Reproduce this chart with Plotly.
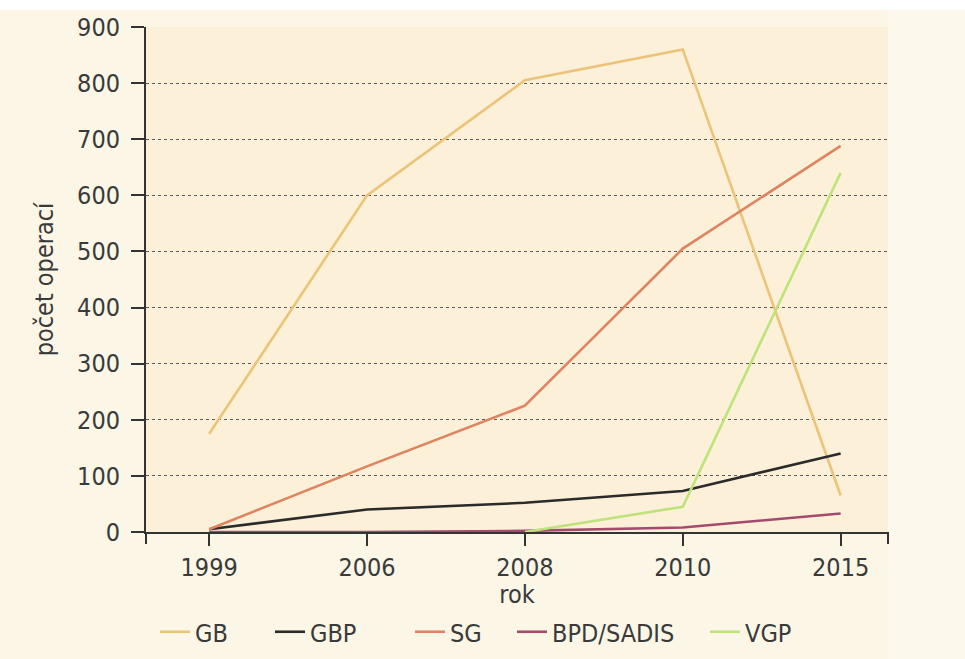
import plotly.graph_objects as go

years = ["1999", "2006", "2008", "2010", "2015"]
gb = [175, 600, 805, 860, 65]
gbp = [5, 40, 52, 73, 140]
sg = [5, 117, 225, 505, 688]
bpd = [0, 0, 2, 8, 33]
vgp = [None, None, 0, 45, 640]

names = ["GB", "GBP", "SG", "BPD/SADIS", "VGP"]
colors = ["#ebc47a", "#2b2b2b", "#df8460", "#a44a6e", "#bde37a"]
series = [gb, gbp, sg, bpd, vgp]
legend_x = [155, 270, 410, 512, 705]  # pixel start of each legend item

FONT = "Liberation Sans Narrow, DejaVu Sans Condensed, Arial Narrow, sans-serif"
W, H = 965, 659

fig = go.Figure()
legend_layout = {}
for i, (name, col, vals) in enumerate(zip(names, colors, series)):
    lg = "legend" if i == 0 else f"legend{i + 1}"
    fig.add_trace(go.Scatter(x=years, y=vals, name=name, mode="lines",
                             line=dict(color=col, width=2.6), legend=lg))
    legend_layout[lg] = dict(orientation="h", xref="container", yref="container",
                             x=legend_x[i] / W, xanchor="left",
                             y=(H - 632) / H, yanchor="middle",
                             font=dict(size=25, color="#3a3a3a"),
                             bgcolor="rgba(0,0,0,0)")

fig.update_layout(
    width=W, height=H,
    margin=dict(l=146, r=77, t=27, b=127, autoexpand=False),
    paper_bgcolor="#fbf6e6",
    plot_bgcolor="#fcf0d8",
    font=dict(family=FONT, size=25, color="#3a3a3a"),
    showlegend=True,
    xaxis=dict(type="category", range=[-0.4, 4.3], showgrid=False,
               showline=True, linecolor="#333333", linewidth=2,
               ticks="outside", ticklen=12, tickwidth=1.5, tickcolor="#333333",
               title=dict(text="rok", standoff=8, font=dict(size=25)),
               zeroline=False, automargin=False),
    yaxis=dict(range=[0, 900], dtick=100, showgrid=True,
               gridcolor="#5a5a5a", griddash="dot", gridwidth=1.3,
               showline=True, linecolor="#333333", linewidth=2,
               ticks="outside", ticklen=13, tickwidth=1.5, tickcolor="#333333",
               ticklabelstandoff=6,
               title=dict(text="počet operací", standoff=16, font=dict(size=25)),
               zeroline=False, automargin=False),
    **legend_layout,
)

# white band at the top of the scan
fig.add_shape(type="rect", xref="paper", yref="paper", x0=-1, x1=2,
              y0=1 + 17 / 505, y1=1.2, fillcolor="white", line_width=0, layer="below")
# lighter area right of the plot
fig.add_shape(type="rect", xref="paper", yref="paper", x0=1, x1=1.2,
              y0=-0.3, y1=1 + 17 / 505, fillcolor="#fcf8ec", line_width=0, layer="below")
# end tick of x axis
fig.add_shape(type="line", xref="paper", yref="paper", x0=1, x1=1,
              y0=0, y1=-12 / 505, line=dict(color="#333333", width=2))
# y axis extends slightly below the x axis
fig.add_shape(type="line", xref="paper", yref="paper", x0=0, x1=0,
              y0=0, y1=-12 / 505, line=dict(color="#333333", width=2))

fig.write_html("out.html")
